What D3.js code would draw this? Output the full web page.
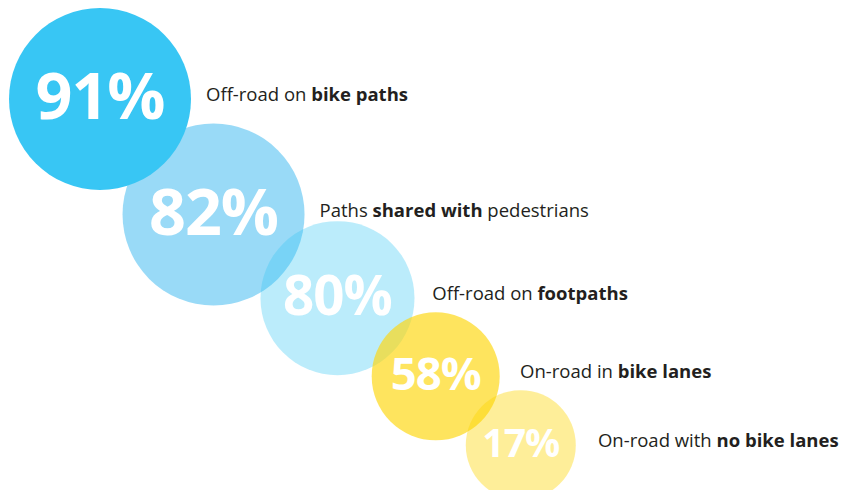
<!DOCTYPE html>
<head>
<meta charset="utf-8">
<style>
body {
  margin: 0;
  background: #fff;
}
svg {
  display: block;
}
.pct {
  font-family: "Open Sans", sans-serif;
  font-weight: 700;
  fill: #fff;
  text-anchor: middle;
}
.label {
  font-family: "Open Sans", Arial, sans-serif;
  font-size: 18.5px;
  fill: #231f20;
}
.label .b {
  font-weight: 700;
}
</style>
</head>
<body>
<svg width="858" height="490"></svg>
<script src="https://d3js.org/d3.v7.min.js"></script>
<script>
// share of riders who feel safe on each kind of route
var values = [91, 82, 80, 58, 17];
var routes = ["bike paths", "shared", "footpaths", "bike lanes", "no lanes"];
var labelPre = ["Off-road on ", "Paths ", "Off-road on ", "On-road in ", "On-road with "];
var labelBold = ["bike paths", "shared with", "footpaths", "bike lanes", "no bike lanes"];
var labelPost = ["", " pedestrians", "", "", ""];
// direction from one bubble to the next (degrees)
var stepAngle = [45.5, 34, 38.5, 39];

var svg = d3.select("svg");

// bubble size from value (the two biggest are drawn the same size)
var radius = d3.scaleLinear()
    .domain([17, 58, 80, 82, 91])
    .range([55, 64, 77, 91, 91]);

var fill = d3.scaleOrdinal()
    .domain(routes)
    .range(["#38c6f4", "#46bcf0", "#38c6f4", "#fdd70f", "#fdd400"]);
var alpha = d3.scaleOrdinal()
    .domain(routes)
    .range([1, 0.55, 0.34, 0.67, 0.4]);

// chain the bubbles down the diagonal, each overlapping the last
var nodes = [];
values.forEach(function(v, i) {
  var r = radius(v), x, y;
  if (i === 0) { x = r + 9; y = r + 8; }
  else {
    var p = nodes[i - 1],
        d = (i === values.length - 1 ? 0.92 : 0.89) * (p.r + r),
        a = stepAngle[i - 1] * Math.PI / 180;
    x = p.x + d * Math.cos(a);
    y = p.y + d * Math.sin(a);
  }
  nodes.push({ value: v, route: routes[i], r: r, x: x, y: y, i: i });
});

var g = svg.append("g");

var circle = g.selectAll("circle")
  .data(nodes)
  .enter().append("circle")
    .attr("cx", function(d) { return d.x; })
    .attr("cy", function(d) { return d.y; })
    .attr("r", function(d) { return d.r; })
    .style("fill", function(d) { return fill(d.route); })
    .style("fill-opacity", function(d) { return alpha(d.route); });
// the solid first bubble sits over the second one
circle.filter(function(d) { return d.i === 0; }).raise();

g.selectAll("text.pct")
  .data(nodes)
  .enter().append("text")
    .attr("class", "pct")
    .attr("x", function(d) { return d.x; })
    .attr("y", function(d) { return d.y; })
    .attr("dy", "0.31em")
    .style("font-size", function(d) { return (0.71 * d.r) + "px"; })
    .style("letter-spacing", "-1px")
    .text(function(d) { return d.value + "%"; });

var label = g.selectAll("text.label")
  .data(nodes)
  .enter().append("text")
    .attr("class", "label")
    .attr("x", function(d) { return d.x + d.r + 15 + (91 - d.r) * 0.2; })
    .attr("y", function(d) { return d.y + 2; });
label.append("tspan").text(function(d) { return labelPre[d.i]; });
label.append("tspan").attr("class", "b").text(function(d) { return labelBold[d.i]; });
label.append("tspan").text(function(d) { return labelPost[d.i]; });
</script>
</body>
